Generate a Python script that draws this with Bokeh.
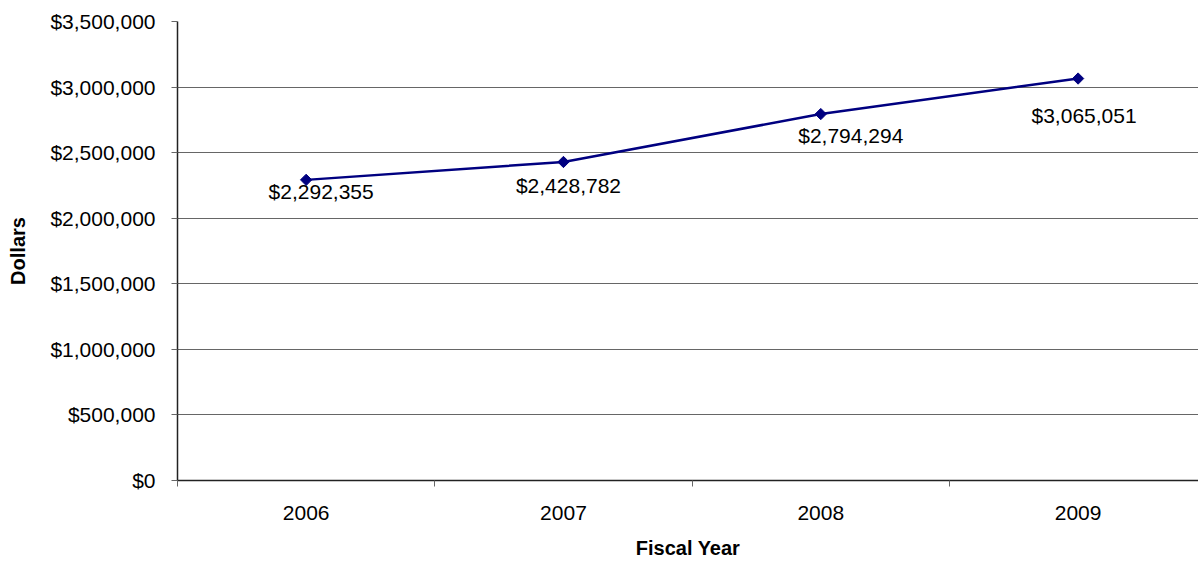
import math
from bokeh.plotting import figure
from bokeh.models import ColumnDataSource, FixedTicker, NumeralTickFormatter, Range1d, LabelSet
from bokeh.core.properties import value
from bokeh.embed import file_html
from bokeh.resources import INLINE

# ---- data ----
years = ["2006", "2007", "2008", "2009"]
dollars = [2292355, 2428782, 2794294, 3065051]
labels = ["$2,292,355", "$2,428,782", "$2,794,294", "$3,065,051"]
y_ticks = [0, 500000, 1000000, 1500000, 2000000, 2500000, 3000000, 3500000]

# ---- style (label pixel offsets) ----
label_dx = [15, 5, 30, 6]
label_dy = [-12, -24, -21, -37]

xpos = [i + 0.5 for i in range(len(years))]
src = ColumnDataSource(dict(x=xpos, y=dollars, lab=labels, dx=label_dx, dy=label_dy))

FONT = "Liberation Sans"

p = figure(width=1198, height=561, output_backend="svg", toolbar_location=None,
           x_range=Range1d(0, 3.968), y_range=Range1d(0, 3500000),
           min_border_left=177, min_border_top=21, min_border_bottom=79, min_border_right=0)
p.outline_line_color = None
p.background_fill_color = "white"

# line + markers
p.line("x", "y", source=src, line_color="#000080", line_width=2.5)
p.scatter("x", "y", source=src, marker="square", size=8, angle=math.pi / 4,
          fill_color="#000080", line_color="#000080")

# data labels
lbl = LabelSet(x="x", y="y", text="lab", source=src, x_offset="dx", y_offset="dy",
               text_align="center", text_baseline="middle",
               text_font=value(FONT), text_font_size=value("21px"), text_color="black")
p.add_layout(lbl)

# x axis: labels at category centres, ticks at boundaries
xa = p.xaxis[0]
xa.ticker = FixedTicker(ticks=xpos, minor_ticks=[0, 1, 2, 3, 4])
xa.major_label_overrides = {xpos[i]: years[i] for i in range(len(years))}
xa.major_tick_out = 0
xa.major_tick_in = 0
xa.minor_tick_out = 6
xa.minor_tick_in = 0
xa.minor_tick_line_color = "#666666"
xa.axis_line_color = "#222222"
xa.axis_line_width = 1.5
xa.major_label_text_font = FONT
xa.major_label_text_font_size = "21px"
xa.major_label_text_color = "black"
xa.major_label_standoff = 19
xa.axis_label = "Fiscal Year"
xa.axis_label_text_font = FONT
xa.axis_label_text_font_style = "bold"
xa.axis_label_text_font_size = "20px"
xa.axis_label_text_color = "black"
xa.axis_label_standoff = 14

# y axis
ya = p.yaxis[0]
ya.ticker = FixedTicker(ticks=y_ticks, minor_ticks=[])
ya.formatter = NumeralTickFormatter(format="$0,0")
ya.major_tick_out = 6
ya.major_tick_in = 0
ya.major_tick_line_color = "#666666"
ya.axis_line_color = "#222222"
ya.axis_line_width = 1.5
ya.major_label_text_font = FONT
ya.major_label_text_font_size = "21px"
ya.major_label_text_color = "black"
ya.major_label_standoff = 16
ya.axis_label = "Dollars"
ya.axis_label_text_font = FONT
ya.axis_label_text_font_style = "bold"
ya.axis_label_text_font_size = "20px"
ya.axis_label_text_color = "black"
ya.axis_label_standoff = 18

p.xgrid.grid_line_color = None
p.ygrid.grid_line_color = "#666666"
p.ygrid.grid_line_width = 1.2

open("out.html", "w").write(file_html(p, INLINE))
